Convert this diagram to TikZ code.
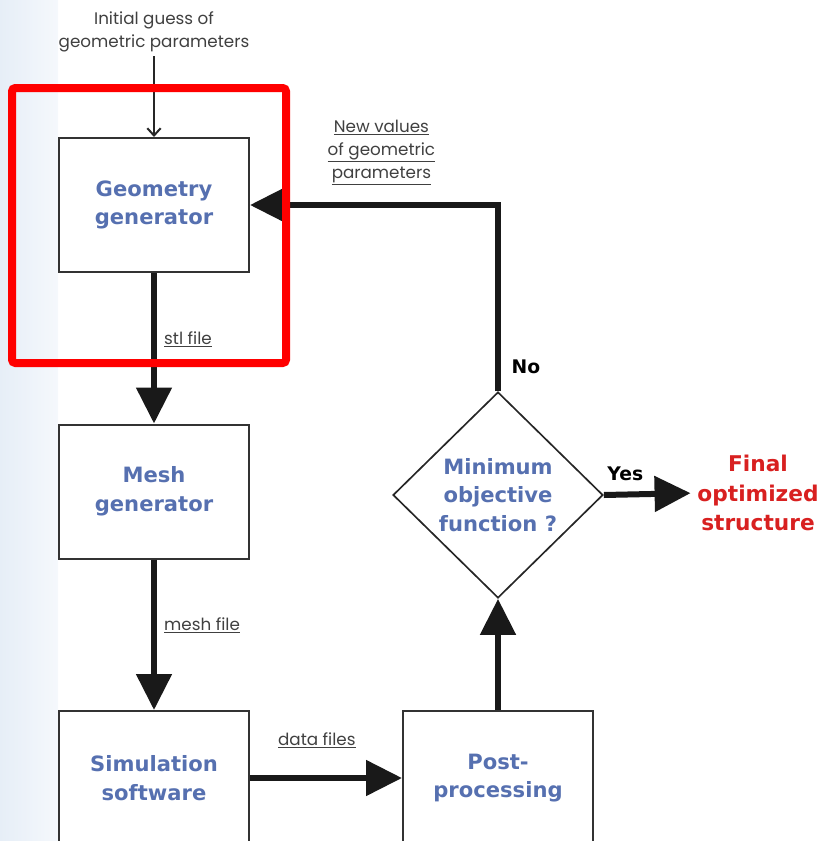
\documentclass[tikz,border=0pt]{standalone}
\usepackage{fontspec}
\setmainfont{Poppins}
\newfontfamily\boxfont{DejaVu Sans}
\usetikzlibrary{arrows.meta, shapes.geometric}
\definecolor{boxblue}{RGB}{86,112,176}
\definecolor{finalred}{RGB}{216,32,32}
\definecolor{stripleft}{RGB}{230,238,247}
\definecolor{stripright}{RGB}{245,248,252}

\begin{document}
\begin{tikzpicture}
	[x=0.3mm, y=-0.3mm,%
	block/.style   ={rectangle,	draw=black!80,	line width=0.6mm,	minimum width=57mm,	minimum height=40.2mm,	align=center,	text=boxblue,	font=\boxfont\bfseries\fontsize{18}{24.5}\selectfont},%
	decision/.style={diamond,		draw=black!85,	line width=0.5mm,	minimum width=63mm,	minimum height=61.8mm,	inner sep=0pt,	align=center,	text=boxblue,	font=\boxfont\bfseries\fontsize{18}{24.5}\selectfont},%
	note/.style    ={align=center,	text=black!75,	font=\fontsize{14.3}{19.5}\selectfont},%
	answer/.style  ={text=black,		font=\boxfont\bfseries\fontsize{16}{20}\selectfont},%
	flow/.style    ={line width=1.8mm,	draw=black!90,	-{Triangle[length=10.8mm, width=10.4mm]}},%
	]

	\useasboundingbox (0,0) rectangle (822,841);
	\clip (0,0) rectangle (822,841);

	% background strip
	\shade [left color=stripleft, right color=stripright] (0,0) rectangle (58,841);

	% nodes
	\node (init) at (154,32) [note] {Initial guess of\\geometric parameters};

	\foreach \n/\x/\y/\t in {geo/154/205/Geometry\\generator, mesh/154/491.5/Mesh\\generator, %
												sim/154/778/Simulation\\software, post/498/778/Post-\\processing}
		\node (\n) at (\x,\y) [block] {\t};

	\node (dec) at (498,495) [decision] {Minimum\\objective\\function ?};

	\node (final) at (758,493) [align=center, text=finalred, font=\boxfont\bfseries\fontsize{18.5}{25}\selectfont, inner sep=0pt] {Final\\optimized\\structure};

	% connections
	\draw [line width=0.6mm, draw=black!85, -{Straight Barb[length=2.2mm, width=4mm, line width=0.6mm]}] (init) -- (geo);

	\draw [flow] (geo) -- node [pos=0.44, right=1mm, note] {\underline{stl file}} (mesh);
	\draw [flow] (mesh) -- node [pos=0.44, right=1mm, note] {\underline{mesh file}} (sim);
	\draw [flow] (sim) -- node [pos=0.44, above=7mm, note] {\underline{data files}} (post);
	\draw [flow] (post) -- (dec);

	\draw [flow] (dec.north) -- node [pos=0.13, right=2mm, answer] {No} (dec.north |- geo.east)
		-- node [pos=0.47, above=4mm, note] {\underline{New values}\\\underline{of geometric}\\\underline{parameters}} (geo.east);
	\draw [flow, shorten >=2mm] (dec.east) -- node [pos=0.23, above=2mm, answer] {Yes} (final.west);

	% highlight
	\draw [line width=2.4mm, draw=red, rounded corners=1mm] (12,88) rectangle (286,363);

\end{tikzpicture}
\end{document}
